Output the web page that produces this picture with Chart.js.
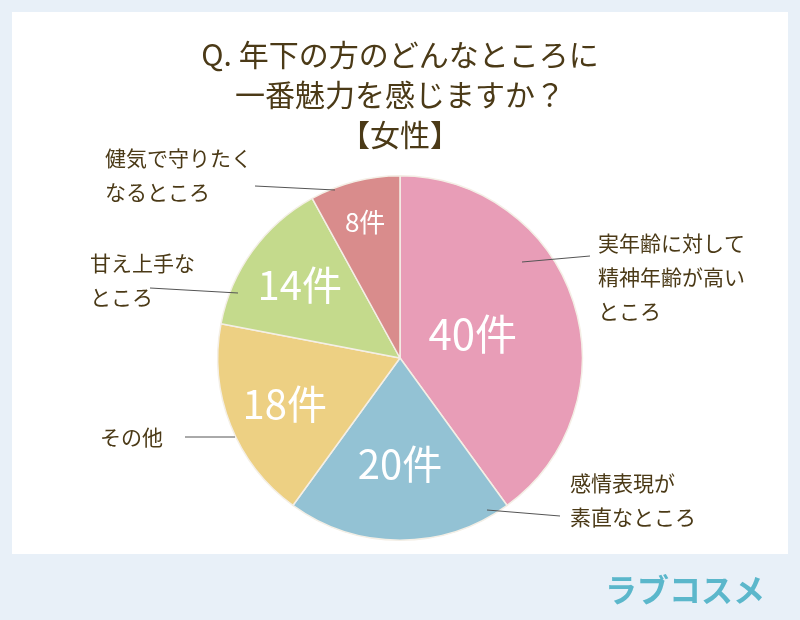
<!DOCTYPE html>
<html><head><meta charset="utf-8">
<script src="https://cdn.jsdelivr.net/npm/chart.js@4/dist/chart.umd.min.js"></script>
<style>html,body{margin:0;padding:0;background:#e8f0f8}#w{position:relative;width:800px;height:620px}</style>
</head><body><div id="w"><canvas id="c" width="800" height="620"></canvas></div>
<script>
const categories = ["実年齢に対して\n精神年齢が高い\nところ","感情表現が\n素直なところ","その他","甘え上手な\nところ","健気で守りたく\nなるところ"];
const values = [40,20,18,14,8];
const unit = "件";
const titleLines = ["Q. 年下の方のどんなところに","一番魅力を感じますか？","【女性】"];
const colors = ["#e89db7","#93c2d4","#edd083","#c4da8c","#d98c8c"];
const inFrac=[0.42,0.58,0.68,0.68,0.77], inSize=[42,40,40,40,26];
const outPos=[[598,243],[570,483],[100,437],[90,263],[105,158]];
const lineSeg=[[522,262,590,256],[487,510,560,516],[185,437,235,437],[150,288,238,293],[255,186,335,190]];
const FONT='"Noto Sans CJK JP", sans-serif';
const textColor="#4b3a17";
const deco={id:'deco',
 beforeDraw(ch){const c=ch.ctx;c.save();c.fillStyle="#e8f0f8";c.fillRect(0,0,800,620);c.fillStyle="#fff";c.fillRect(12,12,776,542);
  c.fillStyle="#5bb7cb";c.font='bold 32px '+FONT;c.textAlign='center';c.textBaseline='middle';c.fillText("ラブコスメ",685,590);c.restore();},
 afterDraw(ch){const c=ch.ctx;c.save();
  c.fillStyle=textColor;c.textAlign='center';c.textBaseline='middle';c.font='30px '+FONT;
  titleLines.forEach((t,i)=>c.fillText(t,400,55+i*40));
  const arcs=ch.getDatasetMeta(0).data;
  arcs.forEach((a,i)=>{const mid=(a.startAngle+a.endAngle)/2,r=a.outerRadius;
   c.fillStyle="#fff";c.font=inSize[i]+'px '+FONT;c.textAlign='center';
   c.fillText(values[i]+unit,a.x+Math.cos(mid)*r*inFrac[i],a.y+Math.sin(mid)*r*inFrac[i]);
   const s=lineSeg[i];
   c.strokeStyle="#555";c.lineWidth=1;c.beginPath();c.moveTo(s[0],s[1]);c.lineTo(s[2],s[3]);c.stroke();
   c.fillStyle=textColor;c.font='21px '+FONT;c.textAlign='left';
   categories[i].split("\n").forEach((l,j)=>c.fillText(l,outPos[i][0],outPos[i][1]+j*34));
  });c.restore();}};
new Chart(document.getElementById('c'),{type:'pie',
 data:{labels:categories,datasets:[{data:values,backgroundColor:colors,borderColor:"#f4efe6",borderWidth:1.5}]},
 options:{responsive:false,animation:false,layout:{padding:{top:175,bottom:79}},
  plugins:{legend:{display:false},tooltip:{enabled:false}}},
 plugins:[deco]});
</script></body></html>
